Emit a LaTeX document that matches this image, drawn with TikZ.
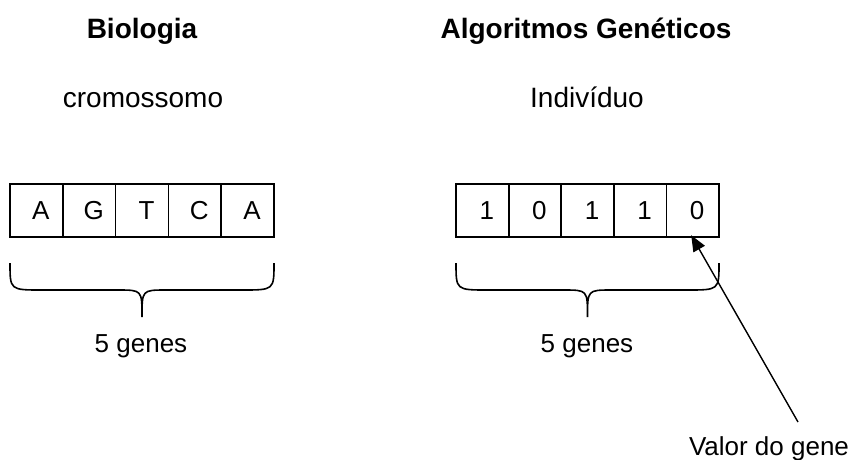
\documentclass[tikz,border=0pt]{standalone}
\usepackage{fontspec}
\setmainfont{Liberation Sans}
\usepackage{tikz}
\usetikzlibrary{arrows.meta}

\begin{document}
\begin{tikzpicture}[x=1pt, y=-1pt,
    cell/.style={draw, line width=1.6pt, minimum width=52.8pt, minimum height=53pt, inner sep=0pt,
        font=\fontsize{26}{30}\selectfont, execute at begin node={\hspace*{9pt}}},
    title/.style={anchor=base, font=\fontsize{28}{32}\selectfont\bfseries},
    sub/.style={anchor=base, font=\fontsize{28}{32}\selectfont},
    lbl/.style={anchor=base, font=\fontsize{26}{30}\selectfont}]
    \useasboundingbox (0,0) rectangle (853,459);

    % titulos
    \node[title] at (142, 38) (tbio) {Biologia};
    \node[title] at (586, 38) (tag) {Algoritmos Genéticos};
    \node[sub] at (143, 107) (scrom) {cromossomo};
    \node[sub] at (587, 107) (sind) {Indivíduo};

    % cromossomo
    \node[cell] at (36.4, 210.5) (c1) {A};
    \node[cell] at (89.2, 210.5) (c2) {G};
    \node[cell] at (142.0, 210.5) (c3) {T};
    \node[cell] at (194.8, 210.5) (c4) {C};
    \node[cell] at (247.6, 210.5) (c5) {A};

    % individuo
    \node[cell] at (482.3, 210.5) (i1) {1};
    \node[cell] at (534.9, 210.5) (i2) {0};
    \node[cell] at (587.5, 210.5) (i3) {1};
    \node[cell] at (640.1, 210.5) (i4) {1};
    \node[cell] at (692.7, 210.5) (i5) {0};

    % chaves
    \coordinate (cl) at (10, 263);
    \coordinate (cr) at (274, 263);
    \coordinate (il) at (456, 263);
    \coordinate (ir) at (719, 263);
    \draw[line width=1.6pt] (cl) .. controls (10, 290) .. (42, 290) -- (118, 290)
        .. controls (142, 290) .. (142, 317) .. controls (142, 290) .. (166, 290)
        -- (242, 290) .. controls (274, 290) .. (cr);
    \draw[line width=1.6pt] (il) .. controls (456, 290) .. (488, 290) -- (563.5, 290)
        .. controls (587.5, 290) .. (587.5, 317) .. controls (587.5, 290) .. (611.5, 290)
        -- (687, 290) .. controls (719, 290) .. (ir);

    \node[lbl] at (141, 352) (gcrom) {5 genes};
    \node[lbl] at (587, 352) (gind) {5 genes};

    % valor do gene
    \node[lbl] at (769, 455) (val) {Valor do gene};
    \coordinate (valtail) at (798, 422);
    \draw[line width=1.4pt, -{Triangle[length=16pt, width=13pt]}, shorten >=-3pt] (valtail) -- (i5.south);
\end{tikzpicture}
\end{document}
